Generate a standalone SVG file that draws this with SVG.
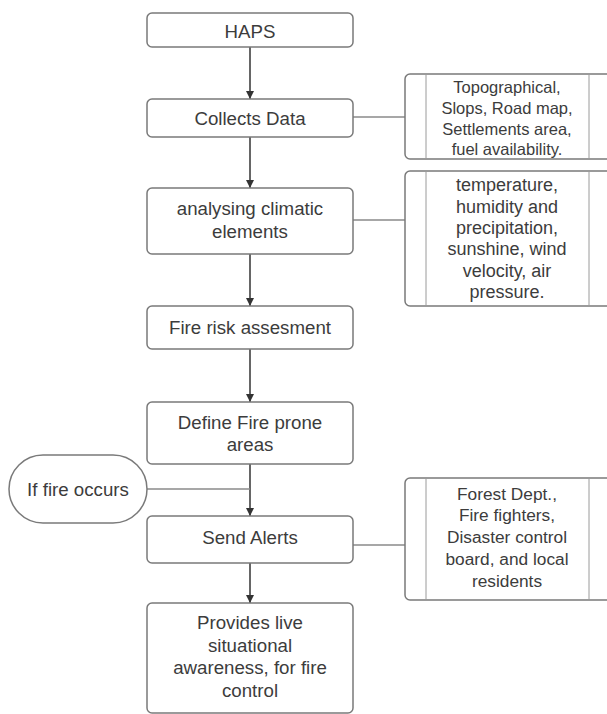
<svg xmlns="http://www.w3.org/2000/svg" width="607" height="714" viewBox="0 0 607 714">
<defs>
<style>
.box{fill:#fff;stroke:#7a7a7a;stroke-width:1.5}
.t{font-family:"Liberation Sans",Arial,sans-serif;fill:#3c3c3c;text-anchor:middle;dominant-baseline:central}
.f18{font-size:18.7px}
.f16{font-size:16.5px}
.f17{font-size:17.3px}
.fb{font-size:18px}
.arr{stroke:#333;stroke-width:1.5;fill:none;marker-end:url(#ah)}
.ln{stroke:#8a8a8a;stroke-width:1.5;fill:none}
.div{stroke:#9a9a9a;stroke-width:1}
</style>
<marker id="ah" viewBox="0 0 10 10" refX="10" refY="5" markerWidth="8" markerHeight="12" markerUnits="userSpaceOnUse" orient="auto">
<path d="M0,0 L10,5 L0,10 z" fill="#333"/>
</marker>
</defs>
<rect width="607" height="714" fill="#fff"/>
<g id="connectors">
<line class="arr" x1="250" y1="47" x2="250" y2="99"/>
<line class="arr" x1="250" y1="137" x2="250" y2="188"/>
<line class="arr" x1="250" y1="254" x2="250" y2="306"/>
<line class="arr" x1="250" y1="349" x2="250" y2="402"/>
<line class="arr" x1="250" y1="464" x2="250" y2="516"/>
<line class="arr" x1="250" y1="563" x2="250" y2="603"/>
<line class="ln" x1="353" y1="117" x2="405" y2="117"/>
<line class="ln" x1="353" y1="220" x2="405" y2="220"/>
<line class="ln" x1="353" y1="545" x2="405" y2="545"/>
<line class="ln" x1="147" y1="489" x2="250" y2="489"/>
</g>
<g id="haps">
<rect class="box" x="147" y="13" width="206" height="34" rx="5"/>
<text class="t f18" x="250" y="31">HAPS</text>
</g>
<g id="collects">
<rect class="box" x="147" y="99" width="206" height="38" rx="5"/>
<text class="t f18" x="250" y="118">Collects Data</text>
</g>
<g id="analysing">
<rect class="box" x="147" y="188" width="206" height="66" rx="5"/>
<text class="t f18" x="250" y="208">analysing climatic</text>
<text class="t f18" x="250" y="231">elements</text>
</g>
<g id="risk">
<rect class="box" x="147" y="306" width="206" height="43" rx="5"/>
<text class="t f18" x="250" y="327">Fire risk assesment</text>
</g>
<g id="define">
<rect class="box" x="147" y="402" width="206" height="62" rx="5"/>
<text class="t f18" x="250" y="422">Define Fire prone</text>
<text class="t f18" x="250" y="444">areas</text>
</g>
<g id="iffire">
<rect class="box" x="9" y="455" width="138" height="68" rx="34"/>
<text class="t f18" x="78" y="489">If fire occurs</text>
</g>
<g id="send">
<rect class="box" x="147" y="516" width="206" height="47" rx="5"/>
<text class="t f18" x="250" y="537">Send Alerts</text>
</g>
<g id="provides">
<rect class="box" x="147" y="603" width="206" height="110" rx="5"/>
<text class="t f18" x="250" y="622">Provides live</text>
<text class="t f18" x="250" y="645">situational</text>
<text class="t f18" x="250" y="667">awareness, for fire</text>
<text class="t f18" x="250" y="690">control</text>
</g>
<g id="data-list">
<rect class="box" x="405" y="74" width="215" height="85" rx="5"/>
<line class="div" x1="426" y1="74" x2="426" y2="159"/>
<line class="div" x1="589" y1="74" x2="589" y2="159"/>
<text class="t f16" x="507" y="87">Topographical,</text>
<text class="t f16" x="507" y="108">Slops, Road map,</text>
<text class="t f16" x="507" y="129">Settlements area,</text>
<text class="t f16" x="507" y="149">fuel availability.</text>
</g>
<g id="climate-list">
<rect class="box" x="405" y="171" width="215" height="135" rx="5"/>
<line class="div" x1="426" y1="171" x2="426" y2="306"/>
<line class="div" x1="589" y1="171" x2="589" y2="306"/>
<text class="t fb" x="507" y="185">temperature,</text>
<text class="t fb" x="507" y="207">humidity and</text>
<text class="t fb" x="507" y="228">precipitation,</text>
<text class="t fb" x="507" y="249">sunshine, wind</text>
<text class="t fb" x="507" y="271">velocity, air</text>
<text class="t fb" x="507" y="292">pressure.</text>
</g>
<g id="alert-list">
<rect class="box" x="405" y="478" width="215" height="122" rx="5"/>
<line class="div" x1="426" y1="478" x2="426" y2="600"/>
<line class="div" x1="589" y1="478" x2="589" y2="600"/>
<text class="t f17" x="507" y="494">Forest Dept.,</text>
<text class="t f17" x="507" y="515">Fire fighters,</text>
<text class="t f17" x="507" y="537">Disaster control</text>
<text class="t f17" x="507" y="559">board, and local</text>
<text class="t f17" x="507" y="581">residents</text>
</g>
</svg>
